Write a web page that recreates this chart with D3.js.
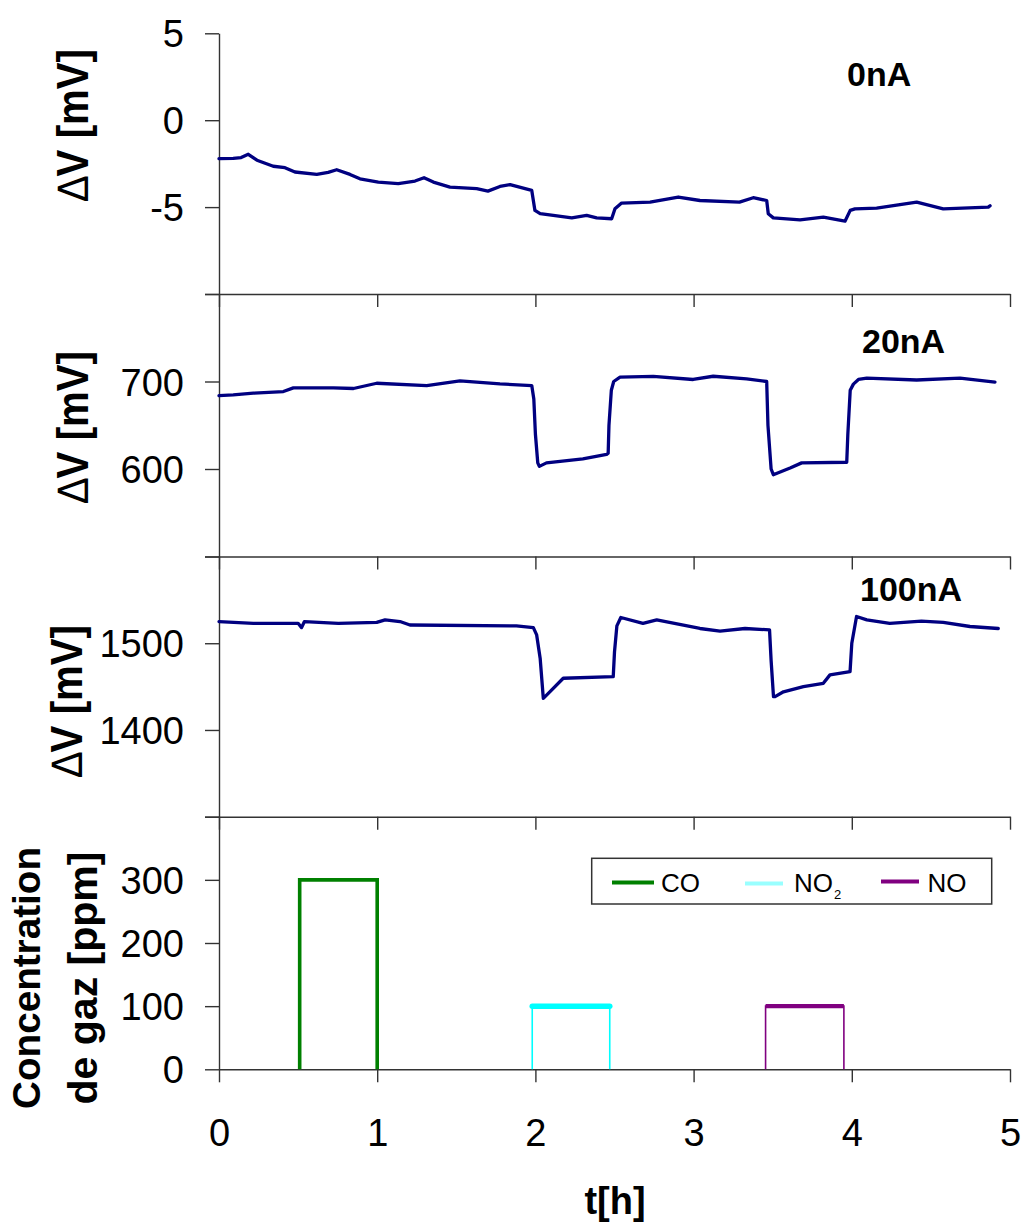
<!DOCTYPE html>
<html><head><meta charset="utf-8">
<script src="https://cdn.jsdelivr.net/npm/d3@7"></script>
<style>
body{margin:0;background:#fff;}
svg{display:block;font-family:"Liberation Sans",Arial,sans-serif;}
</style></head><body>
<svg id="chart" width="1025" height="1224"></svg>
<script>
// ---------------- DATA ----------------
const timeTicks = [0, 1, 2, 3, 4, 5];
const panelLabels = ["0nA", "20nA", "100nA"];

const yTicks0 = [-10, -5, 0, 5];      const yLabels0 = [-5, 0, 5];
const yTicks20 = [500, 600, 700, 800]; const yLabels20 = [600, 700];
const yTicks100 = [1300, 1400, 1500, 1600]; const yLabels100 = [1400, 1500];
const yTicksGas = [0, 100, 200, 300, 400]; const yLabelsGas = [0, 100, 200, 300];

// [t (h), ΔV (mV)]
const trace0nA = [[0,-2.21],[0.09,-2.2],[0.14,-2.15],[0.185,-1.96],[0.24,-2.3],[0.343,-2.65],[0.417,-2.73],[0.48,-2.98],
  [0.618,-3.12],[0.69,-3.0],[0.744,-2.85],[0.828,-3.12],[0.891,-3.37],[1.007,-3.56],[1.133,-3.65],[1.239,-3.5],
  [1.296,-3.31],[1.355,-3.56],[1.46,-3.85],[1.629,-3.94],[1.70,-4.08],[1.776,-3.81],[1.84,-3.71],[1.977,-4.04],
  [1.997,-5.19],[2.03,-5.38],[2.113,-5.48],[2.23,-5.62],[2.324,-5.48],[2.387,-5.62],[2.482,-5.67],[2.503,-5.10],
  [2.545,-4.77],[2.725,-4.71],[2.903,-4.42],[3.04,-4.62],[3.29,-4.71],[3.377,-4.46],[3.462,-4.62],[3.472,-5.38],
  [3.504,-5.62],[3.673,-5.73],[3.82,-5.58],[3.957,-5.81],[3.99,-5.19],[4.02,-5.10],[4.157,-5.06],[4.41,-4.71],
  [4.578,-5.10],[4.863,-5.0],[4.874,-4.92]];

const trace20nA = [[0,683.9],[0.09,684.6],[0.217,686.6],[0.407,688.5],[0.47,692.7],[0.723,692.7],[0.85,692],
  [0.997,698],[1.313,695.4],[1.523,700.8],[1.776,697.3],[1.977,695.4],[1.99,680],[2.0,640],[2.015,607],[2.025,603],
  [2.07,607],[2.30,611.6],[2.45,616.6],[2.46,618],[2.465,650],[2.48,690],[2.495,700],[2.535,705],[2.745,705.8],
  [2.997,702.3],[3.124,706],[3.335,703],[3.462,700],[3.47,650],[3.49,600],[3.504,593.5],[3.61,601.2],[3.683,607],
  [3.968,607.7],[3.975,640],[3.99,690],[4.01,697],[4.042,702.3],[4.095,703.9],[4.41,701.7],[4.684,703.9],[4.905,699.3]];

const trace100nA = [[0,1525],[0.217,1523],[0.50,1523],[0.522,1518],[0.54,1525],[0.754,1523],[0.997,1524],
  [1.05,1527],[1.144,1525],[1.207,1521],[1.88,1520],[1.987,1518],[2.008,1509.6],[2.03,1482.7],[2.05,1436.5],
  [2.08,1442],[2.176,1459.6],[2.492,1461.5],[2.50,1490],[2.515,1520],[2.54,1529.7],[2.68,1523],[2.767,1527],
  [3.04,1517],[3.167,1514],[3.325,1517],[3.48,1515.4],[3.49,1480],[3.505,1438.5],[3.515,1438.5],[3.568,1444],
  [3.694,1450],[3.82,1453.8],[3.862,1463.5],[3.989,1467.3],[4.00,1500],[4.03,1530.8],[4.095,1527],[4.24,1523],
  [4.44,1525.5],[4.578,1524],[4.747,1519.3],[4.926,1517]];

// [t (h), concentration (ppm)]
const gasCO  = [[0.51,0],[0.51,300],[1.0,300],[1.0,0]];
const gasNO2 = [[1.98,0],[1.98,100],[2.47,100],[2.47,0]];
const gasNO  = [[3.455,0],[3.455,100],[3.95,100],[3.95,0]];
const gasNames = ["CO", "NO", "NO"];

// ---------------- LAYOUT ----------------
const svg = d3.select("#chart");
const FONT = '"Liberation Sans", Arial, sans-serif';
const axisColor = "#333";
const x = d3.scaleLinear().domain([0, 5]).range([219, 1010]);

const panels = [
  {data: trace0nA, domain: [-10, 5], range: [294, 33.3], ticks: yTicks0, labels: yLabels0,
   label: panelLabels[0], lx: 847, ly: 86, tx: 88, ty: 125},
  {data: trace20nA, domain: [500, 800], range: [556.5, 294], ticks: yTicks20, labels: yLabels20,
   label: panelLabels[1], lx: 862, ly: 352.5, tx: 88, ty: 427},
  {data: trace100nA, domain: [1300, 1600], range: [816.7, 556.5], ticks: yTicks100, labels: yLabels100,
   label: panelLabels[2], lx: 860, ly: 600.5, tx: 81.5, ty: 701},
];
const gasPanel = {domain: [0, 400], range: [1069.3, 816.7], ticks: yTicksGas, labels: yLabelsGas};

function styleAxis(g) {
  g.selectAll("path.domain").attr("stroke", axisColor).attr("stroke-width", 1.4);
  g.selectAll(".tick line").attr("stroke", axisColor).attr("stroke-width", 1.4);
  g.selectAll(".tick text").attr("font-family", FONT).attr("fill", "#000");
}

function drawYAxis(y, ticks, labels) {
  const g = svg.append("g").attr("transform", `translate(${x(0)},0)`)
    .call(d3.axisLeft(y).tickValues(ticks).tickSize(14).tickSizeOuter(0).tickPadding(35)
      .tickFormat(d => labels.includes(d) ? String(d) : ""));
  styleAxis(g);
  g.selectAll(".tick text").attr("font-size", 38).attr("x", -35).attr("dy", "0.36em");
}

function drawXAxis(yPos, showLabels) {
  const g = svg.append("g").attr("transform", `translate(0,${yPos})`)
    .call(d3.axisBottom(x).tickValues(timeTicks).tickSize(13).tickSizeOuter(0)
      .tickFormat(d => showLabels ? String(d) : ""));
  styleAxis(g);
  g.selectAll(".tick text").attr("font-size", 38).attr("y", 0).attr("dy", 0)
    .attr("transform", "translate(0,77)");
}

function yTitle(cx, cy, len, parts) {
  const t = svg.append("text").attr("transform", `translate(${cx},${cy}) rotate(-90)`)
    .attr("text-anchor", "middle").attr("font-family", FONT).attr("font-size", 44)
    .attr("font-weight", "bold").attr("textLength", len).attr("lengthAdjust", "spacingAndGlyphs");
  parts.forEach(p => t.append("tspan").attr("font-weight", p.w).text(p.s));
}

const line = d3.line();

panels.forEach(p => {
  const y = d3.scaleLinear().domain(p.domain).range(p.range);
  drawYAxis(y, p.ticks, p.labels);
  drawXAxis(p.range[0], false);
  svg.append("path").datum(p.data)
    .attr("d", line.x(d => x(d[0])).y(d => y(d[1])))
    .attr("fill", "none").attr("stroke", "#000080").attr("stroke-width", 3.3)
    .attr("stroke-linejoin", "round").attr("stroke-linecap", "round");
  svg.append("text").attr("x", p.lx).attr("y", p.ly).attr("font-family", FONT)
    .attr("font-size", 34).attr("font-weight", "bold").text(p.label);
  yTitle(p.tx, p.ty, 152, [{s: "\u2206", w: "normal"}, {s: "V [mV]", w: "bold"}]);
});

// gas panel
const yg = d3.scaleLinear().domain(gasPanel.domain).range(gasPanel.range);
drawYAxis(yg, gasPanel.ticks, gasPanel.labels);
drawXAxis(gasPanel.range[0], true);

const gline = d3.line().x(d => x(d[0])).y(d => yg(d[1]));
svg.append("path").datum(gasCO).attr("d", gline).attr("fill", "none")
  .attr("stroke", "#008000").attr("stroke-width", 3.6);
svg.append("path").datum(gasNO2).attr("d", gline).attr("fill", "none")
  .attr("stroke", "#00ffff").attr("stroke-width", 1.6);
svg.append("path").datum(gasNO2.slice(1, 3)).attr("d", gline).attr("fill", "none")
  .attr("stroke", "#00ffff").attr("stroke-width", 5.5).attr("stroke-linecap", "round");
svg.append("path").datum(gasNO).attr("d", gline).attr("fill", "none")
  .attr("stroke", "#800080").attr("stroke-width", 1.6);
svg.append("path").datum(gasNO.slice(1, 3)).attr("d", gline).attr("fill", "none")
  .attr("stroke", "#800080").attr("stroke-width", 4.2);

// legend
const leg = svg.append("g");
leg.append("rect").attr("x", 591.7).attr("y", 858.3).attr("width", 400).attr("height", 45.7)
  .attr("fill", "#fff").attr("stroke", axisColor).attr("stroke-width", 1.5);
const legItems = [
  {name: gasNames[0], color: "#008000", x1: 612, x2: 654, ly: 882.5, tx: 661, sub: null},
  {name: gasNames[1], color: "#99ffff", x1: 745, x2: 783, ly: 883.5, tx: 794, sub: "2"},
  {name: gasNames[2], color: "#800080", x1: 881, x2: 919, ly: 881.5, tx: 927.5, sub: null},
];
legItems.forEach(it => {
  leg.append("line").attr("x1", it.x1).attr("x2", it.x2).attr("y1", it.ly).attr("y2", it.ly)
    .attr("stroke", it.color).attr("stroke-width", 4);
  const t = leg.append("text").attr("x", it.tx).attr("y", 891.7).attr("font-family", FONT)
    .attr("font-size", 26).text(it.name);
  if (it.sub) t.append("tspan").attr("font-size", 13).attr("dy", 7).attr("dx", 1).text(it.sub);
});

// gas y title (two lines)
svg.append("text").attr("transform", "translate(39.5,978) rotate(-90)").attr("text-anchor", "middle")
  .attr("font-family", FONT).attr("font-size", 39).attr("font-weight", "bold")
  .attr("textLength", 262).attr("lengthAdjust", "spacingAndGlyphs").text("Concentration");
svg.append("text").attr("transform", "translate(97,978) rotate(-90)").attr("text-anchor", "middle")
  .attr("font-family", FONT).attr("font-size", 40).attr("font-weight", "bold")
  .attr("textLength", 253).attr("lengthAdjust", "spacingAndGlyphs").text("de gaz [ppm]");

// x title
svg.append("text").attr("x", 615).attr("y", 1214).attr("text-anchor", "middle")
  .attr("font-family", FONT).attr("font-size", 38).attr("font-weight", "bold").text("t[h]");
</script>
</body></html>
